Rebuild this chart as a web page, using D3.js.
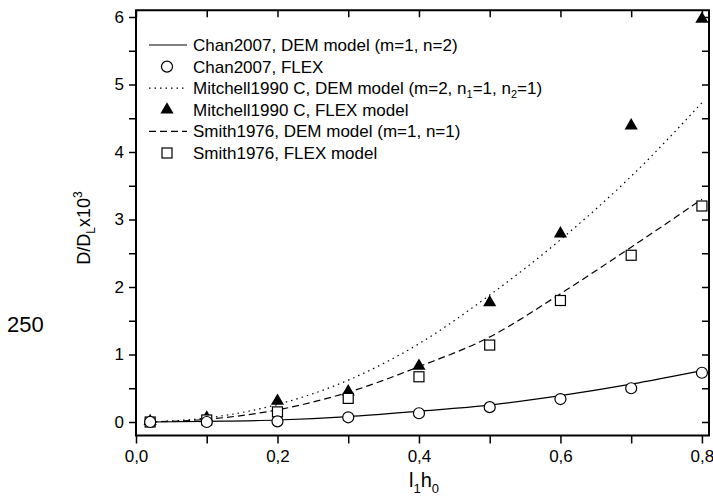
<!DOCTYPE html>
<html>
<head>
<meta charset="utf-8">
<script src="https://cdn.jsdelivr.net/npm/d3@7"></script>
<style>
  body { margin: 0; background: #fff; }
  svg { font-family: "Liberation Sans", Arial, sans-serif; }
  .axis path, .axis line { stroke: #000; }
  .axis text { font-size: 17px; fill: #000; }
</style>
</head>
<body>
<div id="chart"></div>
<script>
// x positions (l1h0) shared by every series
const xValues = [0.02, 0.1, 0.2, 0.3, 0.4, 0.5, 0.6, 0.7, 0.8];

// FLEX points
const chanFlex     = [0.00, 0.00, 0.01, 0.07, 0.13, 0.22, 0.34, 0.50, 0.73];
const mitchellFlex = [0.01, 0.06, 0.31, 0.45, 0.83, 1.77, 2.79, 4.39, 5.97];
const smithFlex    = [0.00, 0.03, 0.15, 0.35, 0.67, 1.14, 1.80, 2.47, 3.20];

// DEM model curves
const chanDem     = [0.00, 0.01, 0.03, 0.08, 0.16, 0.25, 0.39, 0.56, 0.76];
const mitchellDem = [0.00, 0.06, 0.26, 0.62, 1.16, 1.88, 2.70, 3.64, 4.73];
const smithDem    = [0.00, 0.04, 0.18, 0.44, 0.82, 1.26, 1.90, 2.59, 3.30];

const xTicks = [0, 0.1, 0.2, 0.3, 0.4, 0.5, 0.6, 0.7, 0.8];
const xTickLabels = ["0,0", "", "0,2", "", "0,4", "", "0,6", "", "0,8"];
const yTicks = [0, 0.5, 1, 1.5, 2, 2.5, 3, 3.5, 4, 4.5, 5, 5.5, 6];
const yTickLabels = ["0", "", "1", "", "2", "", "3", "", "4", "", "5", "", "6"];

const width = 713, height = 498;
const svg = d3.select("#chart").append("svg")
    .attr("width", width)
    .attr("height", height);

const x = d3.scaleLinear().domain([0, 0.81]).range([136, 709]);
const y = d3.scaleLinear().domain([-0.2, 6.1]).range([435.5, 10.25]);

// axes
svg.append("g").attr("class", "axis")
    .attr("transform", `translate(0,${y(-0.2)})`)
    .call(d3.axisBottom(x).tickValues(xTicks).tickSize(8).tickPadding(6)
        .tickFormat((d, i) => xTickLabels[i]));

svg.append("g").attr("class", "axis")
    .attr("transform", `translate(0,${y(6.1)})`)
    .call(d3.axisBottom(x).tickValues(xTicks).tickSize(7).tickFormat(""));

svg.append("g").attr("class", "axis")
    .attr("transform", `translate(${x(0)},0)`)
    .call(d3.axisLeft(y).tickValues(yTicks).tickSize(7).tickPadding(5)
        .tickFormat((d, i) => yTickLabels[i]));

svg.append("g").attr("class", "axis")
    .attr("transform", `translate(${x(0.81)},0)`)
    .call(d3.axisRight(y).tickValues(yTicks).tickSize(-7).tickFormat(""));

svg.selectAll(".axis path").attr("stroke-width", 2).attr("d", null);
svg.selectAll(".axis line").attr("stroke-width", 1.5);

// frame
svg.append("rect")
    .attr("x", x(0)).attr("y", y(6.1))
    .attr("width", x(0.81) - x(0))
    .attr("height", y(-0.2) - y(6.1))
    .attr("fill", "none").attr("stroke", "#000").attr("stroke-width", 2);

// curves
const line = d3.line()
    .x((d, i) => x(xValues[i]))
    .y(d => y(d))
    .curve(d3.curveMonotoneX);

const curves = [
    { data: chanDem, dash: null },
    { data: mitchellDem, dash: "1.5,4" },
    { data: smithDem, dash: "7,4" }
];
curves.forEach(c => {
    svg.append("path")
        .attr("d", line(c.data))
        .attr("fill", "none")
        .attr("stroke", "#000")
        .attr("stroke-width", 1.2)
        .attr("stroke-dasharray", c.dash);
});

// markers
const triangle = d3.symbol().type(d3.symbolTriangle).size(75);

function drawSquare(g, cx, cy) {
    g.append("rect").attr("x", cx - 5).attr("y", cy - 5)
        .attr("width", 10).attr("height", 10)
        .attr("fill", "#fff").attr("stroke", "#000").attr("stroke-width", 1.2);
}
function drawCircle(g, cx, cy) {
    g.append("circle").attr("cx", cx).attr("cy", cy).attr("r", 5.5)
        .attr("fill", "#fff").attr("stroke", "#000").attr("stroke-width", 1.2);
}
function drawTriangle(g, cx, cy) {
    g.append("path").attr("d", triangle)
        .attr("transform", `translate(${cx},${cy})`)
        .attr("fill", "#000");
}

const marks = svg.append("g");
xValues.forEach((xv, i) => {
    drawTriangle(marks, x(xv), y(mitchellFlex[i]));
    drawSquare(marks, x(xv), y(smithFlex[i]));
    drawCircle(marks, x(xv), y(chanFlex[i]));
});

// legend
const legendRows = [
    { type: "line", dash: null, text: [["Chan2007, DEM model (m=1, n=2)"]] },
    { type: "circle", text: [["Chan2007, FLEX"]] },
    { type: "line", dash: "1.5,4", text: [["Mitchell1990 C, DEM model (m=2, n"], ["1", "sub"], ["=1, n"], ["2", "sub"], ["=1)"]] },
    { type: "triangle", text: [["Mitchell1990 C, FLEX model"]] },
    { type: "line", dash: "7,4", text: [["Smith1976, DEM model (m=1, n=1)"]] },
    { type: "square", text: [["Smith1976, FLEX model"]] }
];

const legend = svg.append("g");
legendRows.forEach((r, i) => {
    const cy = 45 + i * 21.6;
    if (r.type === "line") {
        legend.append("line").attr("x1", 149).attr("x2", 187)
            .attr("y1", cy).attr("y2", cy)
            .attr("stroke", "#000").attr("stroke-width", 1.2)
            .attr("stroke-dasharray", r.dash);
    } else if (r.type === "circle") {
        drawCircle(legend, 167, cy);
    } else if (r.type === "triangle") {
        drawTriangle(legend, 167, cy);
    } else {
        drawSquare(legend, 167, cy);
    }
    const t = legend.append("text").attr("x", 193).attr("y", cy + 6)
        .style("font-size", "17px");
    r.text.forEach(p => {
        const s = t.append("tspan").text(p[0]);
        if (p[1] === "sub") s.attr("dy", 4).style("font-size", "11px");
        else if (t.selectAll("tspan").size() > 1) s.attr("dy", -4);
    });
});

// axis titles
const yTitle = svg.append("text")
    .attr("transform", "translate(90,228) rotate(-90)")
    .attr("text-anchor", "middle")
    .style("font-size", "18px");
yTitle.append("tspan").text("D/D");
yTitle.append("tspan").text("L").attr("dy", 5).style("font-size", "12px");
yTitle.append("tspan").text("x10").attr("dy", -5);
yTitle.append("tspan").text("3").attr("dy", -8).style("font-size", "12px");

const xTitle = svg.append("text")
    .attr("x", 424).attr("y", 487)
    .attr("text-anchor", "middle")
    .style("font-size", "20px");
xTitle.append("tspan").text("l");
xTitle.append("tspan").text("1").attr("dy", 6).style("font-size", "13px");
xTitle.append("tspan").text("h").attr("dy", -6);
xTitle.append("tspan").text("0").attr("dy", 6).style("font-size", "13px");

svg.append("text").attr("x", 7).attr("y", 332)
    .style("font-size", "22px").text("250");
</script>
</body>
</html>
